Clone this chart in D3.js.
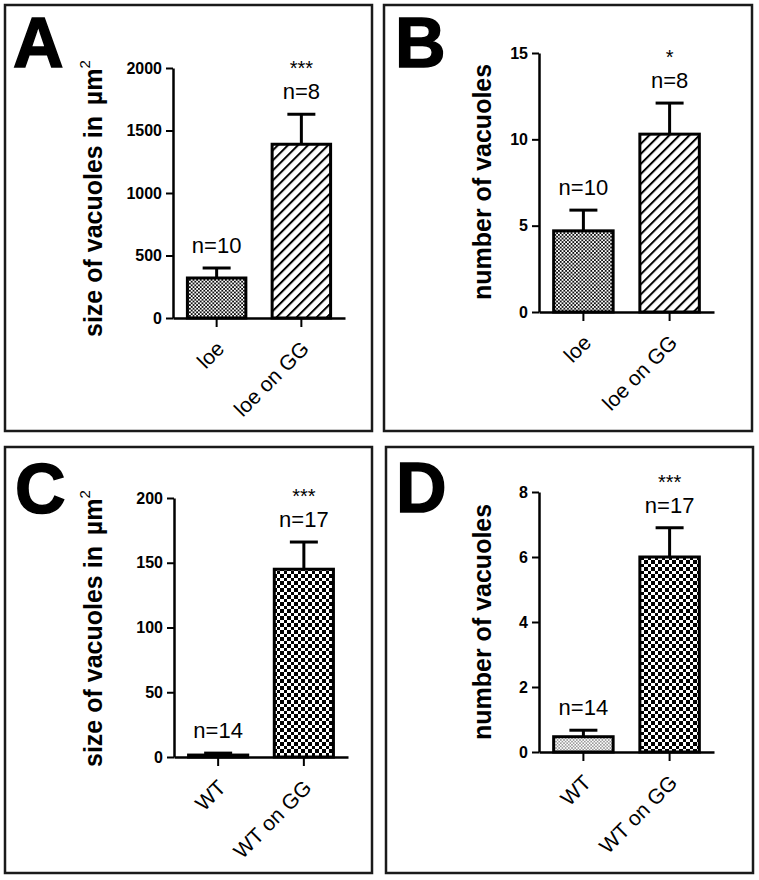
<!DOCTYPE html>
<html>
<head>
<meta charset="utf-8">
<script src="https://cdn.jsdelivr.net/npm/d3@7"></script>
<style>
  html, body { margin: 0; padding: 0; background: #fff; }
  svg { display: block; }
  text { font-family: "Liberation Sans", Arial, sans-serif; fill: #000; }
</style>
</head>
<body>
<svg id="chart" width="759" height="880"></svg>
<script>
// ---------- DATA ----------
const panelLetters = ["A", "B", "C", "D"];

const categoriesA = ["loe", "loe on GG"];
const meansA = [320, 1390];
const semA = [80, 240];
const nLabelsA = ["n=10", "n=8"];
const signifA = ["", "***"];
const ticksA = [0, 500, 1000, 1500, 2000];

const categoriesB = ["loe", "loe on GG"];
const meansB = [4.7, 10.3];
const semB = [1.2, 1.8];
const nLabelsB = ["n=10", "n=8"];
const signifB = ["", "*"];
const ticksB = [0, 5, 10, 15];

const categoriesC = ["WT", "WT on GG"];
const meansC = [1.5, 145];
const semC = [1.5, 21];
const nLabelsC = ["n=14", "n=17"];
const signifC = ["", "***"];
const ticksC = [0, 50, 100, 150, 200];

const categoriesD = ["WT", "WT on GG"];
const meansD = [0.47, 6.0];
const semD = [0.2, 0.9];
const nLabelsD = ["n=14", "n=17"];
const signifD = ["", "***"];
const ticksD = [0, 2, 4, 6, 8];

const titleSize = "size of vacuoles in ";
const titleCount = "number of vacuoles";

// ---------- LAYOUT ----------
const svg = d3.select("#chart");
const defs = svg.append("defs");

// patterns
function checker(id, cell, color, bg, crisp) {
  const p = defs.append("pattern").attr("id", id).attr("patternUnits", "userSpaceOnUse")
    .attr("width", cell * 2).attr("height", cell * 2);
  p.append("rect").attr("width", cell * 2).attr("height", cell * 2).attr("fill", bg);
  const a = p.append("rect").attr("x", 0).attr("y", 0).attr("width", cell).attr("height", cell).attr("fill", color);
  const b = p.append("rect").attr("x", cell).attr("y", cell).attr("width", cell).attr("height", cell).attr("fill", color);
  if (crisp) { a.attr("shape-rendering", "crispEdges"); b.attr("shape-rendering", "crispEdges"); }
}
checker("fineCheck", 1.8, "#111", "#fff", false);
checker("bigCheck", 3.5, "#000", "#fff", true);
checker("dotCheck", 1.6, "#9a9a9a", "#fff", false);
const hatch = defs.append("pattern").attr("id", "hatch").attr("patternUnits", "userSpaceOnUse")
  .attr("width", 7.1).attr("height", 7.1).attr("patternTransform", "rotate(45)");
hatch.append("rect").attr("width", 7.1).attr("height", 7.1).attr("fill", "#fff");
hatch.append("line").attr("x1", 1).attr("x2", 1).attr("y1", 0).attr("y2", 7.1)
  .attr("stroke", "#000").attr("stroke-width", 2);

const panels = [
  { letter: panelLetters[0], cats: categoriesA, means: meansA, sem: semA, n: nLabelsA, sig: signifA, ticks: ticksA,
    title: titleSize, unit: true, fills: ["url(#fineCheck)", "url(#hatch)"],
    box: [5, 5, 367, 426], lx: 13, ly: 67, axisX: 173, xEnd: 345, y0: 318, y1: 68, domainMax: 2000,
    titleX: 102, titleY: 337 },
  { letter: panelLetters[1], cats: categoriesB, means: meansB, sem: semB, n: nLabelsB, sig: signifB, ticks: ticksB,
    title: titleCount, unit: false, fills: ["url(#fineCheck)", "url(#hatch)"],
    box: [384, 5, 368, 426], lx: 395, ly: 67, axisX: 539, xEnd: 714, y0: 312, y1: 53, domainMax: 15,
    titleX: 491, titleY: 300 },
  { letter: panelLetters[2], cats: categoriesC, means: meansC, sem: semC, n: nLabelsC, sig: signifC, ticks: ticksC,
    title: titleSize, unit: true, fills: ["#111", "url(#bigCheck)"],
    box: [5, 447, 367, 426], lx: 15, ly: 513, axisX: 174, xEnd: 348, y0: 757, y1: 498, domainMax: 200,
    titleX: 102, titleY: 767 },
  { letter: panelLetters[3], cats: categoriesD, means: meansD, sem: semD, n: nLabelsD, sig: signifD, ticks: ticksD,
    title: titleCount, unit: false, fills: ["url(#dotCheck)", "url(#bigCheck)"],
    box: [386, 447, 367, 426], lx: 396, ly: 512, axisX: 539, xEnd: 714, y0: 752, y1: 492, domainMax: 8,
    titleX: 491, titleY: 740 }
];

panels.forEach(p => {
  const g = svg.append("g");
  // frame
  g.append("rect").attr("x", p.box[0]).attr("y", p.box[1]).attr("width", p.box[2]).attr("height", p.box[3])
    .attr("fill", "none").attr("stroke", "#1a1a1a").attr("stroke-width", 2.5);
  // panel letter
  g.append("text").attr("x", p.lx).attr("y", p.ly).text(p.letter)
    .attr("font-size", 70).attr("font-weight", "bold").attr("stroke", "#000").attr("stroke-width", 1.5);

  const x = d3.scaleBand().domain(p.cats).range([p.axisX, p.xEnd]).paddingInner(0.31).paddingOuter(0.17);
  const y = d3.scaleLinear().domain([0, p.domainMax]).range([p.y0, p.y1]);

  // y axis
  const yAxis = d3.axisLeft(y).tickValues(p.ticks).tickFormat(d3.format("d"))
    .tickSize(7).tickSizeOuter(0).tickPadding(4);
  const ya = g.append("g").attr("transform", `translate(${p.axisX},0)`).call(yAxis);
  ya.select(".domain").attr("stroke", "#000").attr("stroke-width", 2.5);
  ya.selectAll(".tick line").attr("stroke", "#000").attr("stroke-width", 2);
  ya.selectAll(".tick text").attr("font-size", 16).attr("font-weight", "bold")
    .attr("font-family", "'Liberation Sans', Arial, sans-serif").attr("fill", "#000");

  // bars
  p.cats.forEach((c, i) => {
    const bx = x(c), bw = x.bandwidth();
    const top = y(p.means[i]);
    g.append("rect").attr("x", bx).attr("y", top).attr("width", bw).attr("height", p.y0 - top)
      .attr("fill", p.fills[i]).attr("stroke", "#000").attr("stroke-width", 3);
    // error bar (upper only)
    const cx = bx + bw / 2;
    const et = y(p.means[i] + p.sem[i]);
    g.append("line").attr("x1", cx).attr("x2", cx).attr("y1", top).attr("y2", et)
      .attr("stroke", "#000").attr("stroke-width", 3);
    g.append("line").attr("x1", cx - 14).attr("x2", cx + 14).attr("y1", et).attr("y2", et)
      .attr("stroke", "#000").attr("stroke-width", 3);
    // n label and significance
    g.append("text").attr("x", cx).attr("y", et - 15).attr("text-anchor", "middle")
      .attr("font-size", 22).text(p.n[i]);
    if (p.sig[i]) {
      g.append("text").attr("x", cx).attr("y", et - 39).attr("text-anchor", "middle")
        .attr("font-size", 20).text(p.sig[i]);
    }
  });

  // x axis
  const xAxis = d3.axisBottom(x).tickSize(9).tickSizeOuter(0).tickFormat("");
  const xa = g.append("g").attr("transform", `translate(0,${p.y0})`).call(xAxis);
  xa.select(".domain").attr("stroke", "#000").attr("stroke-width", 2.5);
  xa.selectAll(".tick line").attr("stroke", "#000").attr("stroke-width", 2);

  // rotated category labels
  p.cats.forEach(c => {
    const cx = x(c) + x.bandwidth() / 2;
    g.append("text").attr("transform", `translate(${cx + 9},${p.y0 + 32}) rotate(-45)`)
      .attr("text-anchor", "end").attr("font-size", 21).text(c);
  });

  // y title
  const t = g.append("text").attr("transform", `translate(${p.titleX},${p.titleY}) rotate(-90)`)
    .attr("font-size", 25).attr("font-weight", "bold");
  t.append("tspan").text(p.title);
  if (p.unit) {
    t.append("tspan").attr("dx", 4).text("µm");
    t.append("tspan").attr("font-size", 15).attr("font-weight", "normal").attr("dy", -12).text("2");
  }
});
</script>
</body>
</html>
